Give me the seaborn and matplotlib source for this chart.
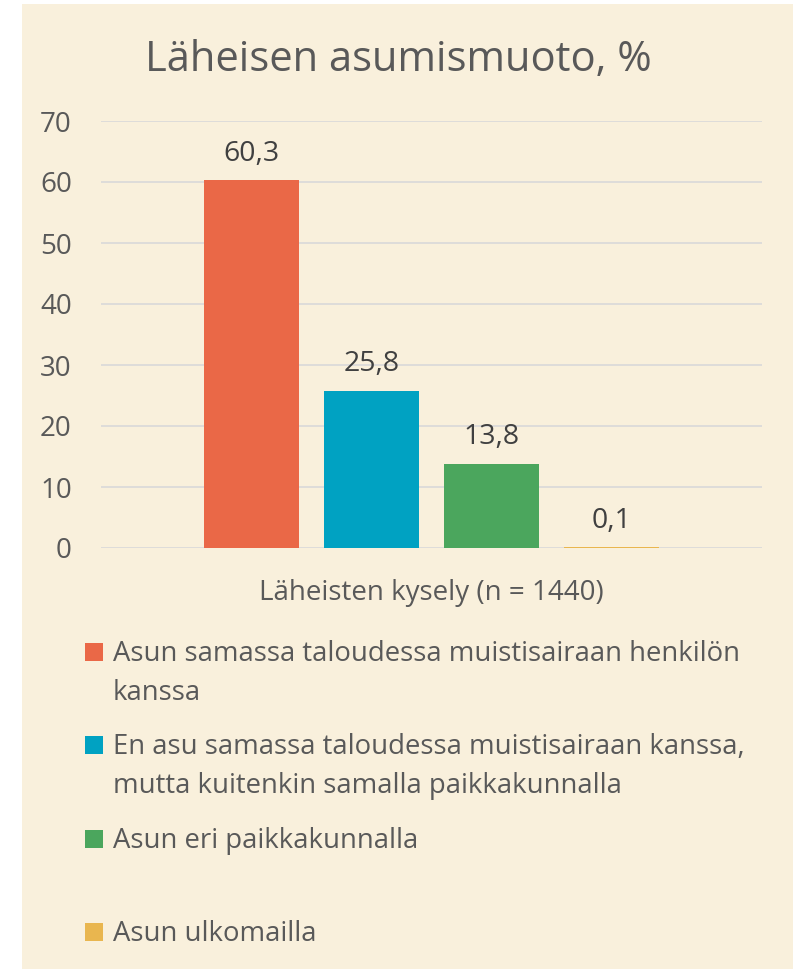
import matplotlib
matplotlib.use("Agg")
import matplotlib.pyplot as plt
import pandas as pd
import seaborn as sns
from matplotlib.patches import Rectangle

# data
group = "Läheisten kysely (n = 1440)"
labels = [
    "Asun samassa taloudessa muistisairaan henkilön\nkanssa",
    "En asu samassa taloudessa muistisairaan kanssa,\nmutta kuitenkin samalla paikkakunnalla",
    "Asun eri paikkakunnalla",
    "Asun ulkomailla",
]
values = [60.3, 25.8, 13.8, 0.1]
colors = ["#EA6847", "#00A2C2", "#4BA65D", "#E9B64F"]
yticks = [0, 10, 20, 30, 40, 50, 60, 70]

BG = "#F9F0DC"
TXT = "#595959"

sns.set_theme(style="white")
plt.rcParams["font.family"] = ["Open Sans", "DejaVu Sans"]

W, H = 802, 969
fig = plt.figure(figsize=(W / 100, H / 100), dpi=100)
fig.patch.set_facecolor("white")
fig.patches.append(Rectangle((22 / W, 0), 771 / W, 965 / H, transform=fig.transFigure,
                             facecolor=BG, edgecolor="none", zorder=-10))

ax = fig.add_axes([101 / W, 1 - 548 / H, 661 / W, 427 / H])
ax.set_facecolor("none")

df = pd.DataFrame({"group": [group] * len(values), "label": labels, "value": values})
sns.barplot(data=df, x="group", y="value", hue="label", hue_order=labels,
            palette=colors, width=0.725, gap=0.208, saturation=1, linewidth=0,
            legend=False, ax=ax, zorder=3)

for c in ax.containers:
    ax.bar_label(c, labels=[f"{v:.1f}".replace(".", ",") for v in c.datavalues],
                 padding=9, fontsize=20.5, color="#404040")

ax.set_xlim(-0.5, 0.5)
ax.set_ylim(0, 70)
ax.set_yticks(yticks)
ax.set_yticklabels([str(t) for t in yticks])
ax.tick_params(axis="y", length=0, pad=21, labelsize=20, labelcolor=TXT)
ax.tick_params(axis="x", length=0, pad=22, labelsize=20, labelcolor=TXT)
ax.set_xlabel("")
ax.set_ylabel("")
ax.grid(axis="y", color="#D9D9D9", linewidth=1.2, zorder=0)
for s in ax.spines.values():
    s.set_visible(False)
ax.set_axisbelow(True)

fig.text(398 / W, 1 - 71 / H, "Läheisen asumismuoto, %", ha="center", va="baseline",
         fontsize=30, color=TXT)

# legend, one slot per entry, one text per line
for i, (lab, col) in enumerate(zip(labels, colors)):
    base = 661 + i * 93.3
    fig.patches.append(Rectangle((85 / W, 1 - base / H), 18 / W, 18 / H,
                                 transform=fig.transFigure, facecolor=col, edgecolor="none"))
    for k, line in enumerate(lab.split("\n")):
        fig.text(113 / W, 1 - (base + k * 38.5) / H, line, ha="left", va="baseline",
                 fontsize=19.8, color=TXT)

fig.savefig("out.png", dpi=100, facecolor="white")
